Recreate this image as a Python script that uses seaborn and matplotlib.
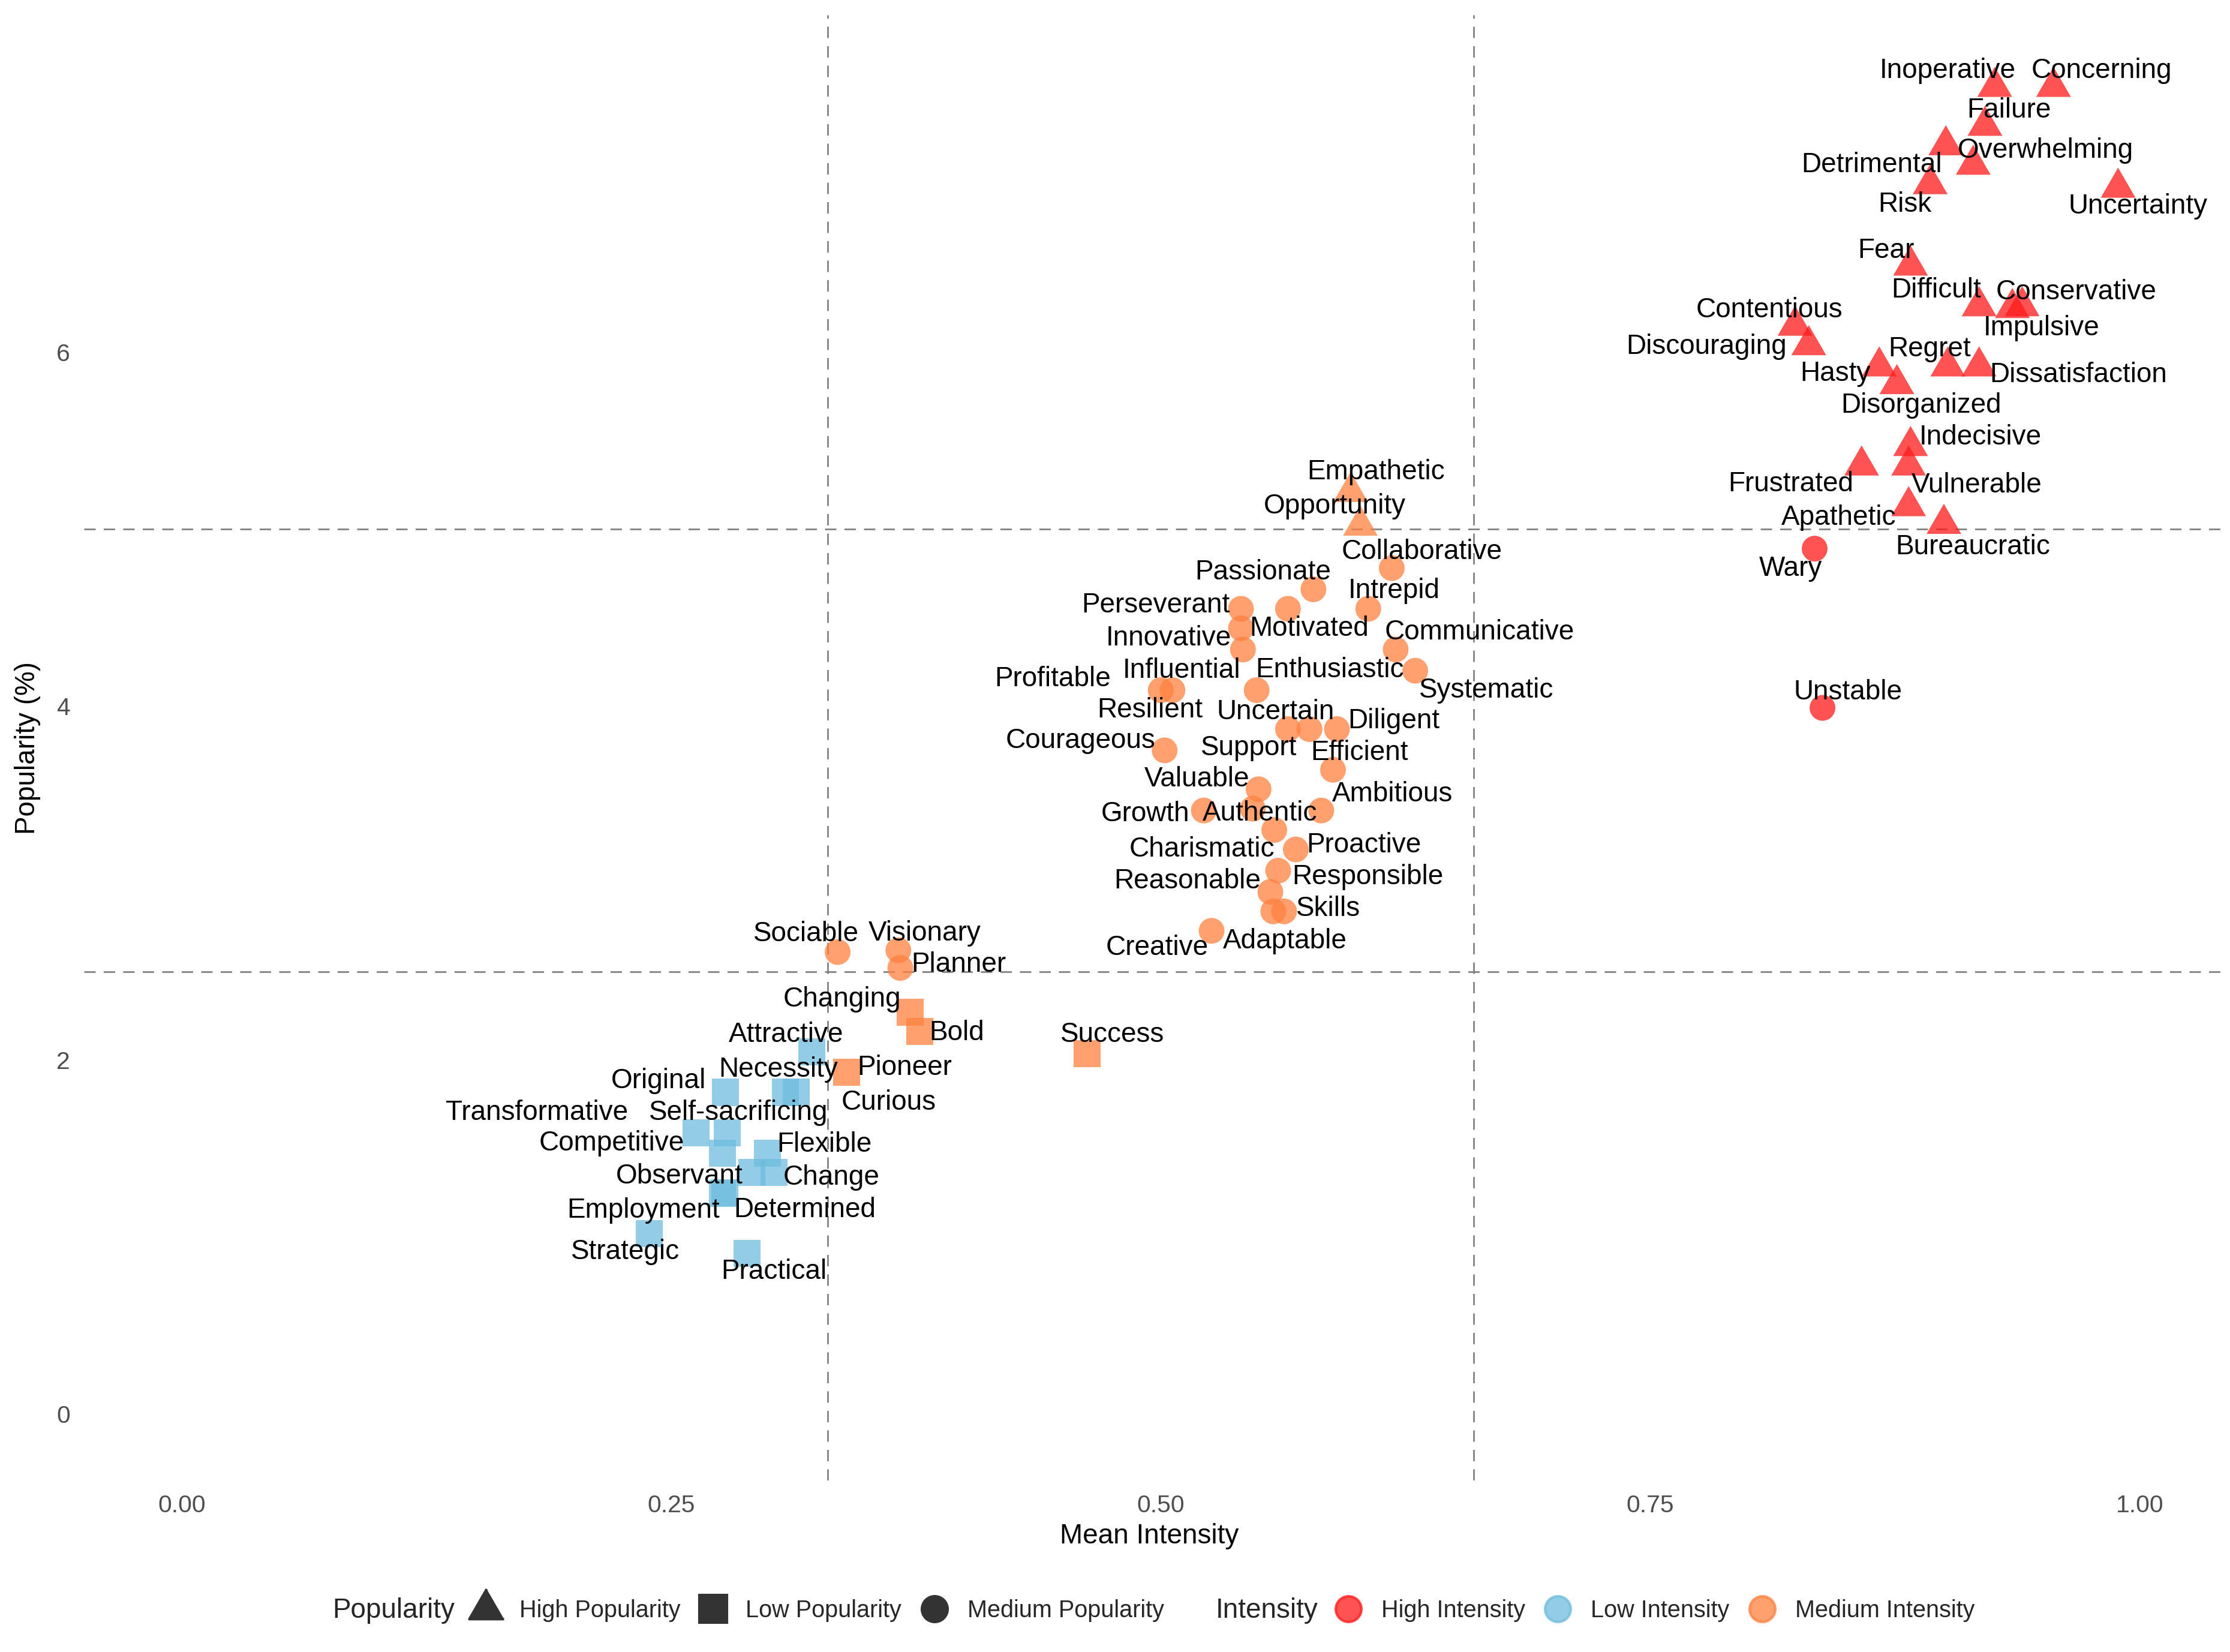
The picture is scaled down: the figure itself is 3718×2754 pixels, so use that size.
import numpy as np
import pandas as pd
import matplotlib as mpl
import matplotlib.pyplot as plt
from matplotlib.lines import Line2D
import seaborn as sns

# Words with mean intensity (x) and popularity in % (y)
words = [
    # high intensity
    'Inoperative', 'Concerning', 'Failure', 'Detrimental', 'Overwhelming', 'Risk',
    'Uncertainty', 'Fear', 'Difficult', 'Conservative', 'Impulsive', 'Contentious',
    'Discouraging', 'Hasty', 'Regret', 'Dissatisfaction', 'Disorganized', 'Indecisive',
    'Frustrated', 'Vulnerable', 'Apathetic', 'Bureaucratic', 'Wary', 'Unstable',
    # medium intensity
    'Empathetic', 'Opportunity', 'Collaborative', 'Passionate', 'Perseverant', 'Motivated',
    'Intrepid', 'Innovative', 'Influential', 'Communicative', 'Systematic', 'Profitable',
    'Resilient', 'Enthusiastic', 'Support', 'Uncertain', 'Diligent', 'Courageous',
    'Efficient', 'Valuable', 'Growth', 'Authentic', 'Ambitious', 'Charismatic',
    'Proactive', 'Responsible', 'Reasonable', 'Adaptable', 'Skills', 'Creative',
    'Sociable', 'Visionary', 'Planner', 'Changing', 'Bold', 'Success', 'Pioneer',
    # low intensity
    'Attractive', 'Original', 'Necessity', 'Curious', 'Transformative', 'Self-sacrificing',
    'Competitive', 'Flexible', 'Observant', 'Change', 'Employment', 'Determined',
    'Strategic', 'Practical',
]

mean_intensity = [
    0.926, 0.956, 0.921, 0.901, 0.915, 0.893,
    0.989, 0.883, 0.918, 0.940, 0.935, 0.824,
    0.831, 0.867, 0.902, 0.918, 0.876, 0.883,
    0.858, 0.882, 0.882, 0.900, 0.834, 0.838,
    0.597, 0.602, 0.618, 0.578, 0.541, 0.565,
    0.606, 0.541, 0.542, 0.620, 0.630, 0.500,
    0.506, 0.549, 0.565, 0.576, 0.590, 0.502,
    0.588, 0.550, 0.522, 0.547, 0.582, 0.558,
    0.569, 0.560, 0.556, 0.5575, 0.563, 0.526,
    0.335, 0.366, 0.367, 0.372, 0.377, 0.4625, 0.3395,
    0.3218, 0.2777, 0.3082, 0.3139, 0.2626, 0.2785,
    0.2763, 0.2990, 0.2913, 0.3026, 0.2763, 0.2775,
    0.2388, 0.2888,
]

popularity = [
    7.50, 7.50, 7.28, 7.17, 7.06, 6.95,
    6.93, 6.49, 6.26, 6.26, 6.25, 6.15,
    6.04, 5.92, 5.92, 5.92, 5.82, 5.47,
    5.36, 5.36, 5.13, 5.03, 4.89, 3.99,
    5.21, 5.02, 4.78, 4.66, 4.55, 4.55,
    4.55, 4.44, 4.32, 4.32, 4.20, 4.09,
    4.09, 4.09, 3.87, 3.87, 3.87, 3.75,
    3.64, 3.53, 3.41, 3.42, 3.41, 3.30,
    3.19, 3.07, 2.95, 2.84, 2.84, 2.73,
    2.61, 2.62, 2.52, 2.27, 2.16, 2.035, 1.93,
    2.046, 1.817, 1.817, 1.817, 1.589, 1.589,
    1.472, 1.474, 1.363, 1.363, 1.246, 1.25,
    1.019, 0.908,
]

# label placement relative to each point, in reference pixels (right, down)
label_dx = [
    -33, 34, 17, -52, 51, -18,
    14, -17.5, -30, 38, 20.5, -18,
    -72, -31, -13, 70, 17, 49,
    -50, 48, -49, 20.5, -17, 18,
    18, -18, 21, -35.5, -60, 15,
    18, -51, -43, 59, 50, -76,
    -16, 51.5, -27.5, -24, 40, -59,
    18.5, -43.5, -41, 5, 50, -51,
    48, 63, -58.5, 8, 31, -38.5,
    -22, 18.5, 41, -48, 26, 17.5, 41,
    -18, -47, -5, 65, -112, 8,
    -78, 40, -51, 40, -56, 56,
    -17, 19,
]
label_dy = [
    -11.5, -11.5, -11, 14, -10, 14.5,
    13, -10.5, -11, -10, 14, -11,
    1, 5, -12, 6, 15, -6,
    13, 14, 8, 16.5, 14, -11,
    -14, -13.5, -11.5, -12, -2.5, 14,
    -12.5, 7, 15, -12, 14, -8,
    14, -14, 13.5, -12, -5.5, -6.5,
    -12, -7, 2.5, 3.3, -11.5, 13.5,
    -3, 4.5, -7.5, 21, -2, 12,
    -12.6, -11.7, -2.4, -9, 1, -13.2, -3.2,
    -12, -8, -16, 7, -14, -14,
    -7, -6, 2.5, 3.5, 12, 12,
    13, 13,
]

intensity_cuts = [0.33, 0.66]
popularity_cuts = [2.5, 5.0]
intensity_levels = ['High Intensity', 'Low Intensity', 'Medium Intensity']
popularity_levels = ['High Popularity', 'Low Popularity', 'Medium Popularity']
intensity_colors = ['#FF1A1A', '#6EBCDE', '#FF803E']

df = pd.DataFrame({'Word': words, 'Mean Intensity': mean_intensity, 'Popularity (%)': popularity})
df['Intensity'] = pd.cut(df['Mean Intensity'], [-np.inf] + intensity_cuts + [np.inf],
                         labels=['Low Intensity', 'Medium Intensity', 'High Intensity']).astype(str)
df['Popularity'] = pd.cut(df['Popularity (%)'], [-np.inf] + popularity_cuts + [np.inf],
                          labels=['Low Popularity', 'Medium Popularity', 'High Popularity']).astype(str)

sns.set_theme(style='white')
plt.rcParams['font.family'] = ['Liberation Sans', 'DejaVu Sans']

# equilateral triangle centred on its centroid, like ggplot's shape 17
tri = mpl.markers.MarkerStyle([(0, 1), (-0.866, -0.5), (0.866, -0.5)])
markers = {'High Popularity': tri, 'Low Popularity': 's', 'Medium Popularity': 'o'}
sizes = {'High Popularity': 258, 'Low Popularity': 117, 'Medium Popularity': 106}
palette = dict(zip(intensity_levels, intensity_colors))

fig = plt.figure(figsize=(3718 / 300, 2754 / 300), dpi=300)
ax = fig.add_axes([0.0376, 0.1038, 0.9614, 0.8871])

for v in intensity_cuts:
    ax.axvline(v, color='#7F7F7F', lw=0.65, ls=(0, (7, 5)), zorder=0.5)
for h in popularity_cuts:
    ax.axhline(h, color='#7F7F7F', lw=0.65, ls=(0, (7, 5)), zorder=0.5)

sns.scatterplot(data=df, x='Mean Intensity', y='Popularity (%)',
                hue='Intensity', hue_order=intensity_levels, palette=palette,
                style='Popularity', style_order=popularity_levels, markers=markers,
                size='Popularity', sizes=sizes,
                alpha=0.75, linewidth=0, legend=False, ax=ax, zorder=2)

K = 2.371 * 72 / 300  # reference pixels -> points
for w, x, y, dx, dy in zip(words, mean_intensity, popularity, label_dx, label_dy):
    ax.annotate(w, (x, y), xytext=(dx * K, -dy * K), textcoords='offset points',
                ha='center', va='center', fontsize=11, color='black', zorder=3)

ax.set_xlim(-0.05, 1.045)
ax.set_ylim(-0.377, 7.906)
ax.set_xticks([0, 0.25, 0.5, 0.75, 1.0])
ax.set_xticklabels(['0.00', '0.25', '0.50', '0.75', '1.00'])
ax.set_yticks([0, 2, 4, 6])
ax.tick_params(length=0, pad=5.5, labelsize=9.8, labelcolor='#4D4D4D')
ax.set_xlabel('Mean Intensity', fontsize=11, color='black')
ax.set_ylabel('Popularity (%)', fontsize=11, color='black')
ax.xaxis.set_label_coords(0.497, -0.029)
ax.yaxis.set_label_coords(-0.02, 0.5)
ax.grid(False)
sns.despine(ax=ax, left=True, bottom=True)

# legend along the bottom: shape for popularity, colour for intensity
pop_handles = [Line2D([], [], ls='', marker=markers[p], color='#333333',
                      markersize=np.sqrt(sizes[p])) for p in popularity_levels]
int_handles = [Line2D([], [], ls='', marker='o', color=c, alpha=0.75,
                      markersize=np.sqrt(106)) for c in intensity_colors]
leg_kw = dict(ncol=3, frameon=False, loc='center left', fontsize=9.5,
              handlelength=1.0, handletextpad=0.88, columnspacing=0.88,
              borderpad=0, borderaxespad=0)
leg1 = fig.legend(pop_handles, popularity_levels, bbox_to_anchor=(0.2128, 0.025), **leg_kw)
leg2 = fig.legend(int_handles, intensity_levels, bbox_to_anchor=(0.5993, 0.025), **leg_kw)
fig.text(0.149, 0.025, 'Popularity', fontsize=11, ha='left', va='center')
fig.text(0.545, 0.025, 'Intensity', fontsize=11, ha='left', va='center')

fig.savefig('out.png', dpi=300, facecolor='white')
